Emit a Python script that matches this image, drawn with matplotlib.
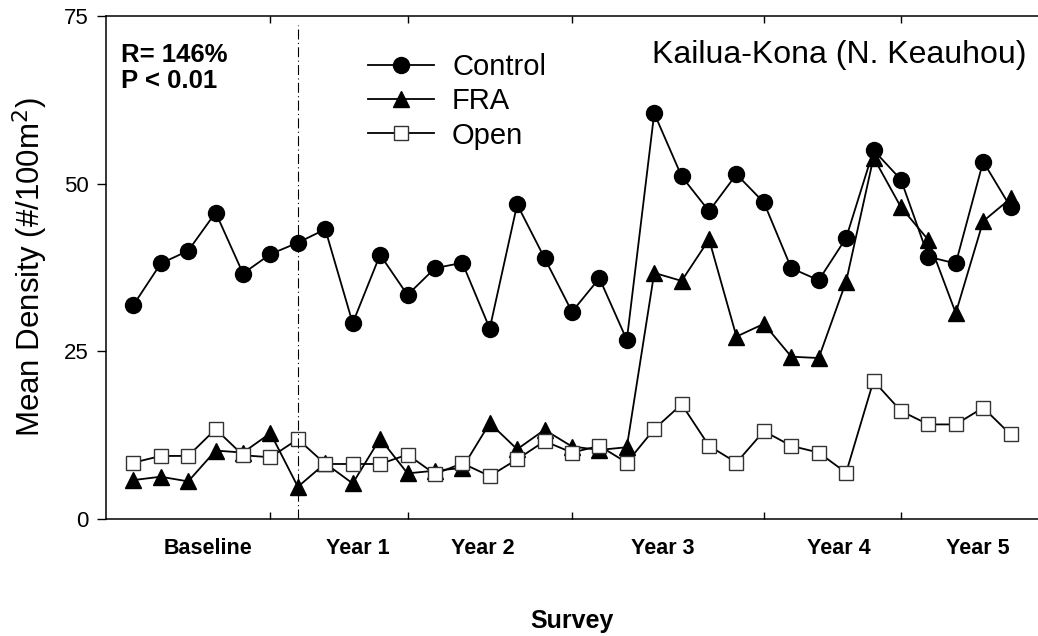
import numpy as np
import matplotlib
matplotlib.use("Agg")
import matplotlib.pyplot as plt

plt.rcParams['font.family'] = ['Liberation Sans', 'DejaVu Sans']

# mean density per survey (33 surveys)
control = [31.9, 38.1, 40.0, 45.7, 36.6, 39.5, 41.2, 43.2, 29.2, 39.4,
           33.4, 37.4, 38.2, 28.4, 46.9, 38.9, 30.9, 35.9, 26.7, 60.5,
           51.1, 45.9, 51.4, 47.2, 37.4, 35.6, 41.9, 55.0, 50.6, 39.1,
           38.1, 53.3, 46.5]
fra = [5.8, 6.3, 5.6, 10.2, 9.9, 12.8, 4.8, 8.3, 5.3, 12.0,
       6.8, 7.2, 7.6, 14.3, 10.4, 13.3, 10.8, 10.3, 10.7, 36.7,
       35.5, 41.7, 27.2, 29.1, 24.2, 24.0, 35.4, 53.9, 46.5, 41.6,
       30.7, 44.4, 47.8]
open_ = [8.4, 9.4, 9.4, 13.4, 9.5, 9.2, 11.9, 8.2, 8.2, 8.2,
         9.6, 6.7, 8.3, 6.4, 8.9, 11.6, 9.9, 10.9, 8.4, 13.4,
         17.1, 10.9, 8.4, 13.1, 10.9, 9.9, 6.9, 20.6, 16.1, 14.1,
         14.1, 16.6, 12.6]

period_labels = ["Baseline", "Year 1", "Year 2", "Year 3", "Year 4", "Year 5"]
period_label_pos = [2.73, 8.2, 12.75, 19.3, 25.75, 30.8]
period_bounds = [5, 10, 16, 23, 28]

x = np.arange(len(control))

fig = plt.figure(figsize=(10.38, 6.36), dpi=100)
ax = fig.add_axes([0.1021, 0.184, 0.8979, 0.7908])

ax.plot(x, control, color='black', lw=1.3, marker='o', ms=11.5,
        mfc='black', mec='black', label='Control')
ax.plot(x, fra, color='black', lw=1.3, marker='^', ms=12,
        mfc='black', mec='black', label='FRA')
ax.plot(x, open_, color='black', lw=1.3, marker='s', ms=9.5,
        mfc='white', mec='#333333', mew=1.0, label='Open')

# start of treatment
ax.axvline(6, ymin=0, ymax=0.982, color='black', lw=0.8,
           linestyle=(0, (9, 3, 1, 3)))

ax.set_xlim(-1, 33)
ax.set_ylim(0, 75)
ax.set_yticks([0, 25, 50, 75])
ax.tick_params(axis='y', direction='out', length=6.5, width=1, labelsize=16, pad=6)

ax.set_xticks(period_bounds)
ax.set_xticklabels([])
ax.set_xticks(period_label_pos, minor=True)
ax.set_xticklabels(period_labels, minor=True, fontweight='bold', fontsize=15.5)
ax.tick_params(axis='x', which='major', direction='in', length=5, width=1,
               top=True, bottom=True)
ax.tick_params(axis='x', which='minor', length=0, pad=14)

ax.spines['right'].set_visible(False)
for s in ['left', 'bottom', 'top']:
    ax.spines[s].set_linewidth(1.1)

ax.set_ylabel('Mean Density (#/100m$^2$)', fontsize=22.5, labelpad=10)
ax.set_xlabel('Survey', fontsize=18, fontweight='bold', labelpad=36)

ax.text(0.016, 0.946, 'R= 146%\nP < 0.01', transform=ax.transAxes,
        fontsize=18.5, fontweight='bold', va='top', ha='left', linespacing=1.1)
ax.text(0.988, 0.922, 'Kailua-Kona (N. Keauhou)', transform=ax.transAxes,
        fontsize=23, ha='right', va='center')

ax.legend(loc='upper left', bbox_to_anchor=(0.269, 0.95), frameon=False,
          fontsize=21, handlelength=2.25, handletextpad=0.62,
          labelspacing=0.22, borderaxespad=0)

fig.savefig('out.png', dpi=100)
